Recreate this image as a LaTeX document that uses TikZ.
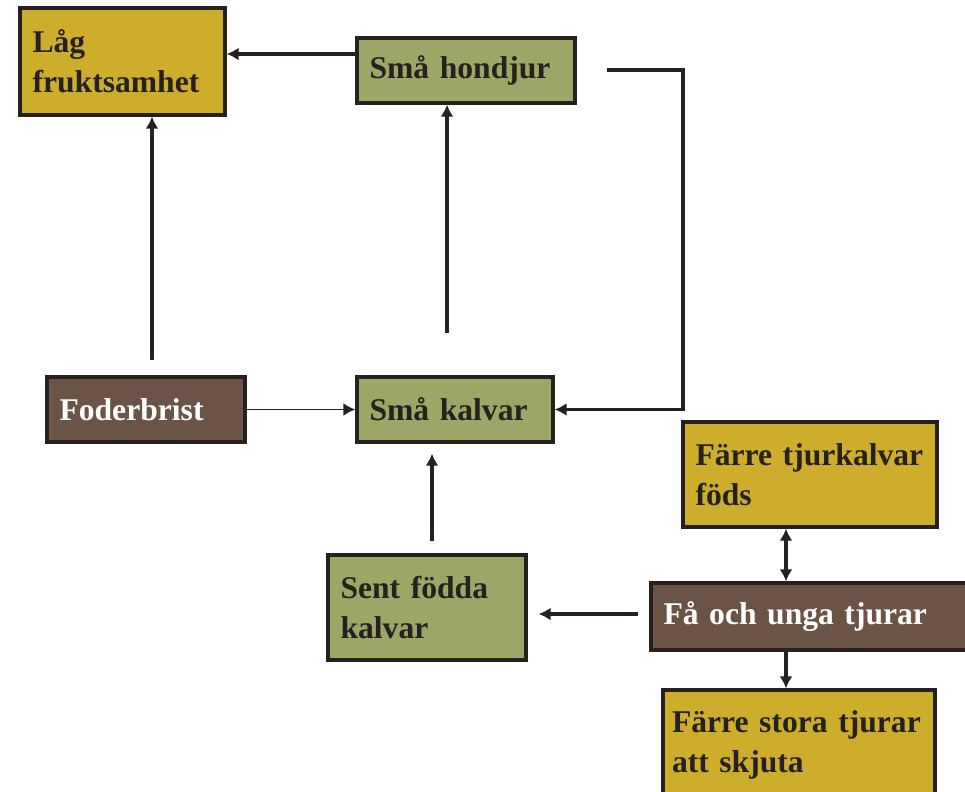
\documentclass[tikz,border=0pt]{standalone}
\usepackage{fontspec}
\setmainfont{Liberation Serif}
\usetikzlibrary{arrows.meta, positioning}
\definecolor{yellowfill}{RGB}{205,174,44}
\definecolor{greenfill}{RGB}{156,166,102}
\definecolor{brownfill}{RGB}{107,84,69}
\definecolor{edgecol}{RGB}{38,33,30}
\hyphenpenalty=10000

\begin{document}
\begin{tikzpicture}[x=0.02cm, y=-0.02cm,
  box/.style={draw=edgecol, line width=1.9pt, align=left, inner xsep=0.25cm,
              font=\fontsize{18}{23}\selectfont\bfseries, text=edgecol},
  ybox/.style={box, fill=yellowfill},
  gbox/.style={box, fill=greenfill},
  bbox/.style={box, fill=brownfill, text=white},
  arr/.style={-{Latex[length=2.4mm, width=2.6mm]}, line width=1.8pt, edgecol},
  darr/.style={{Latex[length=2.4mm, width=2.6mm]}-{Latex[length=2.4mm, width=2.6mm]},
               line width=1.8pt, edgecol}
]
\useasboundingbox (0,0) rectangle (965,792);
\node[ybox, text width=3.6cm, minimum height=2.14cm] (lag) at (122.5,61.5)
     {Låg\\fruktsamhet};
\node[gbox, text width=3.86cm, minimum height=1.3cm] (hondjur) at (466,70.5)
     {Små hondjur};
\node[bbox, text width=3.46cm, minimum height=1.3cm] (foder) at (146,409.5)
     {Foderbrist};
\node[gbox, text width=3.42cm, minimum height=1.3cm] (kalvar) at (455,409.5)
     {Små kalvar};
\node[gbox, text width=3.46cm, minimum height=2.1cm] (sent) at (427,607.5)
     {Sent födda\\kalvar};
\node[ybox, text width=4.58cm, minimum height=2.1cm] (tjurkalv) at (810,474.5)
     {Färre tjurkalvar\\föds};
\node[bbox, text width=6.1cm, minimum height=1.34cm] (faoch) at (816,616.5)
     {Få och unga tjurar};
\node[ybox, inner xsep=0.18cm, text width=5.08cm, minimum height=2.2cm] (stora) at (799,745)
     {Färre stora tjurar\\att skjuta};
\coordinate (loop) at (607,70);
\draw[arr] (hondjur.west |- 0,54) -- (lag.east |- 0,54);
\draw[arr] (loop) -- ++(76,0) |- (kalvar.east);
\draw[arr, line width=1.1pt] (foder.east) -- (kalvar.west);
\draw[arr, shorten <=0.3cm] ([xshift=0.12cm]foder.north) -- ([xshift=0.12cm]foder.north |- lag.south);
\draw[arr, shorten <=0.84cm] ([xshift=-0.16cm]kalvar.north) -- ([xshift=-0.16cm]kalvar.north |- hondjur.south);
\draw[arr, shorten <=0.24cm, shorten >=0.2cm] ([xshift=0.1cm]sent.north) -- ([xshift=0.1cm]sent.north |- kalvar.south);
\draw[arr, shorten <=0.22cm, shorten >=0.22cm] (faoch.west |- 0,614) -- (sent.east |- 0,614);
\draw[darr] (tjurkalv.south -| 786,0) -- (faoch.north -| 786,0);
\draw[arr] (faoch.south -| 786,0) -- (stora.north -| 786,0);
\end{tikzpicture}
\end{document}
